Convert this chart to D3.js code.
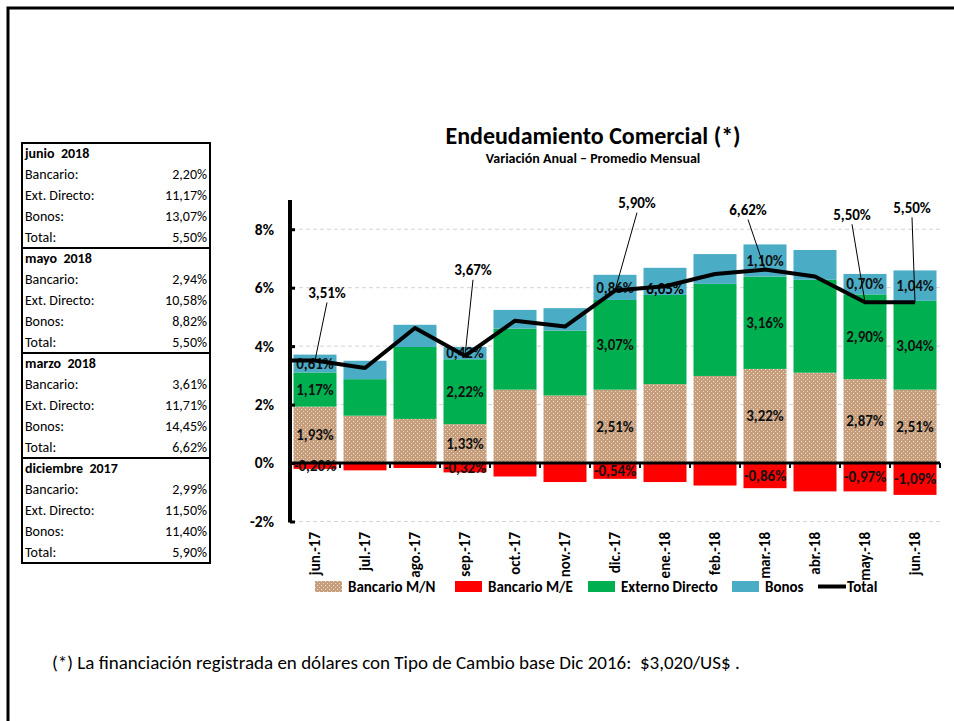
<!DOCTYPE html>
<html>
<head>
<meta charset="utf-8">
<script src="https://cdn.jsdelivr.net/npm/d3@7"></script>
<style>
  body { margin: 0; background: #fff; }
  svg { display: block; font-family: Carlito, Lato, "Open Sans", sans-serif; }
  text { white-space: pre; }
</style>
</head>
<body>
<svg id="chart" width="954" height="721"></svg>
<script>
// data
var months = ["jun.-17","jul.-17","ago.-17","sep.-17","oct.-17","nov.-17","dic.-17","ene.-18","feb.-18","mar.-18","abr.-18","may.-18","jun.-18"];
var bancarioMN = [1.93, 1.62, 1.51, 1.33, 2.51, 2.31, 2.51, 2.70, 2.98, 3.22, 3.09, 2.87, 2.51];
var bancarioME = [-0.20, -0.25, -0.17, -0.32, -0.46, -0.65, -0.54, -0.65, -0.77, -0.86, -0.97, -0.97, -1.09];
var externoDirecto = [1.17, 1.25, 2.46, 2.22, 2.09, 2.22, 3.07, 3.05, 3.15, 3.16, 3.18, 2.90, 3.04];
var bonos = [0.61, 0.63, 0.76, 0.42, 0.64, 0.77, 0.86, 0.93, 1.02, 1.10, 1.02, 0.70, 1.04];
var total = [3.51, 3.25, 4.62, 3.67, 4.87, 4.67, 5.90, 6.05, 6.47, 6.62, 6.38, 5.50, 5.50];
var yTicks = [-2, 0, 2, 4, 6, 8];

// months that carry data labels
var labeled = [0, 3, 6, 9, 11, 12];

var tableSections = ["junio  2018", "mayo  2018", "marzo  2018", "diciembre  2017"];
var tableRows = ["Bancario:", "Ext. Directo:", "Bonos:", "Total:"];
var tableValues = [
  ["2,20%", "11,17%", "13,07%", "5,50%"],
  ["2,94%", "10,58%", "8,82%", "5,50%"],
  ["3,61%", "11,71%", "14,45%", "6,62%"],
  ["2,99%", "11,50%", "11,40%", "5,90%"]
];

var legendItems = ["Bancario M/N", "Bancario M/E", "Externo Directo", "Bonos", "Total"];

var svg = d3.select("#chart");
var fmt = function(v){ return v.toFixed(2).replace(".", ",") + "%"; };

// page frame
svg.append("rect").attr("x", 8).attr("y", 8).attr("width", 990).attr("height", 760)
  .attr("fill", "none").attr("stroke", "#000").attr("stroke-width", 3);

// brown dotted pattern
var defs = svg.append("defs");
var pat = defs.append("pattern").attr("id", "dots")
  .attr("width", 4).attr("height", 4).attr("patternUnits", "userSpaceOnUse");
pat.append("rect").attr("width", 4).attr("height", 4).attr("fill", "#c69e7c");
pat.append("rect").attr("x", 1).attr("y", 1).attr("width", 1).attr("height", 1).attr("fill", "#f2e6da");
pat.append("rect").attr("x", 3).attr("y", 3).attr("width", 1).attr("height", 1).attr("fill", "#e6d2c0");

var colors = ["url(#dots)", "#ff0000", "#00b050", "#4bacc6", "#000"];

// ---- table on the left
var tx0 = 22, tx1 = 210, ty0 = 143, rowH = 21, secH = 105;
var tbl = svg.append("g");
tableSections.forEach(function(name, s){
  var top = ty0 + s*secH;
  tbl.append("text").attr("x", tx0 + 3).attr("y", top + 15)
    .attr("font-size", 14).attr("font-weight", "bold").text(name);
  tableRows.forEach(function(r, i){
    var yy = top + (i+1)*rowH + 15;
    tbl.append("text").attr("x", tx0 + 3).attr("y", yy).attr("font-size", 14).text(r);
    tbl.append("text").attr("x", tx1 - 3).attr("y", yy).attr("font-size", 14)
      .attr("text-anchor", "end").text(tableValues[s][i]);
  });
  if (s > 0) {
    tbl.append("line").attr("x1", tx0).attr("x2", tx1).attr("y1", top).attr("y2", top)
      .attr("stroke", "#000").attr("stroke-width", 2);
  }
});
tbl.append("rect").attr("x", tx0).attr("y", ty0).attr("width", tx1 - tx0).attr("height", secH*4)
  .attr("fill", "none").attr("stroke", "#000").attr("stroke-width", 2);

// ---- chart
var x = d3.scaleBand().domain(months).range([290, 940]).paddingInner(0.14).paddingOuter(0.07);
var y = d3.scaleLinear().domain([-2, 9]).range([521.5, 200]);

svg.append("text").attr("x", 593).attr("y", 144).attr("text-anchor", "middle")
  .attr("font-size", 24).attr("font-weight", "bold").text("Endeudamiento Comercial (*)");
svg.append("text").attr("x", 593).attr("y", 163).attr("text-anchor", "middle")
  .attr("font-size", 14).attr("font-weight", "bold").text("Variación Anual – Promedio Mensual");

// gridlines
svg.append("g").selectAll("line").data(yTicks.filter(function(d){ return d !== 0; }))
  .enter().append("line")
  .attr("x1", 292).attr("x2", 940)
  .attr("y1", function(d){ return y(d); }).attr("y2", function(d){ return y(d); })
  .attr("stroke", "#d4d4d4").attr("stroke-dasharray", "4,3");

// stacked bars
var posSeries = [bancarioMN, externoDirecto, bonos];
var posColors = [colors[0], colors[2], colors[3]];
var bars = svg.append("g");
months.forEach(function(m, i){
  var base = 0;
  posSeries.forEach(function(s, k){
    bars.append("rect").attr("x", x(m)).attr("width", x.bandwidth())
      .attr("y", y(base + s[i])).attr("height", y(base) - y(base + s[i]))
      .attr("fill", posColors[k]);
    base += s[i];
  });
  bars.append("rect").attr("x", x(m)).attr("width", x.bandwidth())
    .attr("y", y(0)).attr("height", y(bancarioME[i]) - y(0))
    .attr("fill", colors[1]);
});

// segment labels
var segLabels = svg.append("g").attr("font-size", 15).attr("font-weight", "bold")
  .attr("text-anchor", "middle").attr("fill", "#111");
labeled.forEach(function(i){
  var cx = x(months[i]) + x.bandwidth()/2;
  var base = 0;
  posSeries.forEach(function(s){
    segLabels.append("text").attr("x", cx).attr("y", y(base + s[i]/2)).attr("dy", "0.35em").text(fmt(s[i]));
    base += s[i];
  });
  segLabels.append("text").attr("x", cx).attr("y", y(bancarioME[i]/2)).attr("dy", "0.35em").text(fmt(bancarioME[i]));
});

// axes
var xAxisY = y(0);
svg.append("line").attr("x1", 290).attr("x2", 940).attr("y1", xAxisY).attr("y2", xAxisY)
  .attr("stroke", "#000").attr("stroke-width", 3);
var step = x.step();
svg.append("g").selectAll("line").data(d3.range(months.length + 1)).enter().append("line")
  .attr("x1", function(d){ return 290 + d*step; }).attr("x2", function(d){ return 290 + d*step; })
  .attr("y1", xAxisY).attr("y2", xAxisY + 5).attr("stroke", "#000").attr("stroke-width", 2);

var yAxis = svg.append("g").attr("transform", "translate(290,0)")
  .call(d3.axisRight(y).tickValues(yTicks).tickSize(5).tickFormat(""));
yAxis.select(".domain").remove();
yAxis.selectAll(".tick line").attr("stroke-width", 3);
svg.append("line").attr("x1", 290).attr("x2", 290).attr("y1", y(9)).attr("y2", y(-2) + 1)
  .attr("stroke", "#000").attr("stroke-width", 4);
svg.append("g").selectAll("text").data(yTicks).enter().append("text")
  .attr("x", 274).attr("y", function(d){ return y(d); }).attr("dy", "0.35em")
  .attr("text-anchor", "end").attr("font-size", 15.5).attr("font-weight", "bold")
  .text(function(d){ return d + "%"; });

// month labels
svg.append("g").selectAll("text").data(months).enter().append("text")
  .attr("transform", function(d){ return "translate(" + (x(d) + x.bandwidth()/2) + ",532) rotate(-90)"; })
  .attr("dy", "0.35em").attr("text-anchor", "end")
  .attr("font-size", 15).attr("font-weight", "bold").text(function(d){ return d; });

// total line
var pts = total.map(function(v, i){ return [x(months[i]) + x.bandwidth()/2, y(v)]; });
pts.unshift([292, y(total[0])]);
svg.append("path").attr("d", d3.line()(pts))
  .attr("fill", "none").attr("stroke", "#000").attr("stroke-width", 4).attr("stroke-linejoin", "round");

// total labels with leaders
var labelOffsets = {0: [12, -68], 3: [8, -86], 6: [22, -88], 9: [-17, -60], 11: [-13, -88], 12: [-3, -95]};
var tl = svg.append("g").attr("font-size", 15).attr("font-weight", "bold").attr("text-anchor", "middle");
labeled.forEach(function(i){
  var px = x(months[i]) + x.bandwidth()/2, py = y(total[i]);
  var o = labelOffsets[i];
  tl.append("line").attr("x1", px + o[0]).attr("y1", py + o[1] + 10).attr("x2", px).attr("y2", py)
    .attr("stroke", "#000").attr("stroke-width", 1);
  tl.append("text").attr("x", px + o[0]).attr("y", py + o[1]).attr("dy", "0.35em").text(fmt(total[i]));
});
// ene.-18 total label sits on the point
tl.append("text").attr("x", x(months[7]) + x.bandwidth()/2).attr("y", y(total[7]) + 3)
  .attr("dy", "0.35em").text(fmt(total[7]));

// legend
var legendX = [315, 455, 588, 732, 818];
var lg = svg.append("g").attr("font-size", 15).attr("font-weight", "bold");
legendItems.forEach(function(name, k){
  var lx = legendX[k];
  if (k < 4) {
    lg.append("rect").attr("x", lx).attr("y", 581).attr("width", 27).attr("height", 11).attr("fill", colors[k]);
  } else {
    lg.append("line").attr("x1", lx).attr("x2", lx + 28).attr("y1", 586.5).attr("y2", 586.5)
      .attr("stroke", "#000").attr("stroke-width", 4);
  }
  lg.append("text").attr("x", lx + (k < 4 ? 33 : 29)).attr("y", 586.5).attr("dy", "0.35em").text(name);
});

// footnote
svg.append("text").attr("x", 52).attr("y", 669).attr("font-size", 19)
  .text("(*) La financiación registrada en dólares con Tipo de Cambio base Dic 2016:  $3,020/US$ .");
</script>
</body>
</html>
